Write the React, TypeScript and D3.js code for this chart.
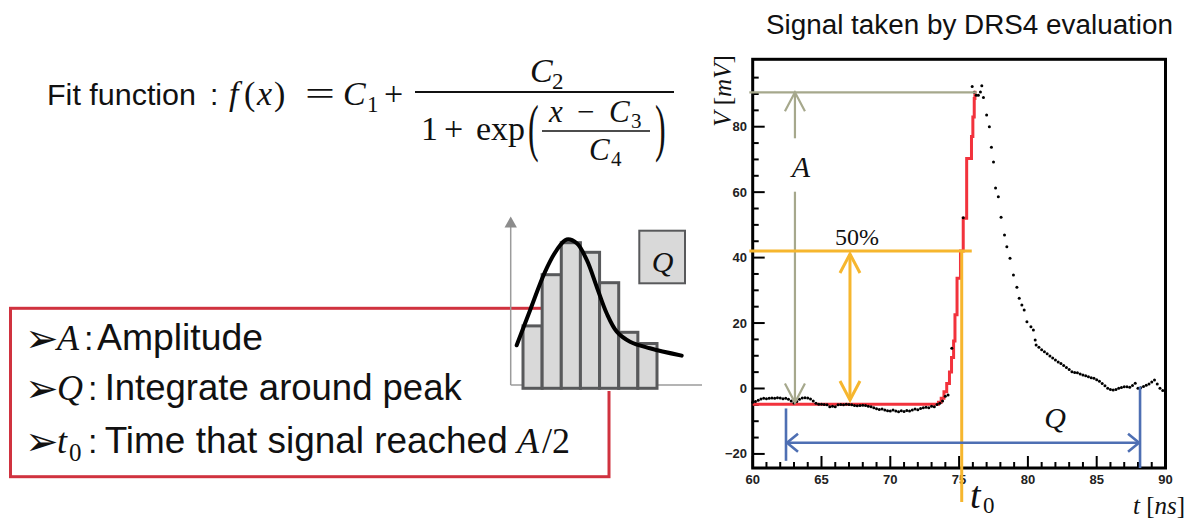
import React from "react";
import * as d3 from "d3";

// ---------- data ----------
// DRS4 samples: [t (ns), V (mV)]
const signalPoints: [number, number][] = [
  [60.0, -4.2], [60.2, -4.0], [60.4, -3.6], [60.6, -3.2], [60.8, -3.0], [61.0, -3.1],
  [61.2, -3.0], [61.4, -2.9], [61.6, -3.0], [61.8, -2.8], [62.0, -2.9], [62.2, -3.1],
  [62.4, -3.0], [62.6, -3.3], [62.8, -3.8], [63.0, -4.4], [63.2, -4.0], [63.4, -3.3],
  [63.6, -2.9], [63.8, -2.8], [64.0, -2.9], [64.2, -3.2], [64.4, -3.8], [64.6, -4.5],
  [64.8, -4.8], [65.0, -4.8], [65.2, -4.9], [65.4, -5.0], [65.6, -5.6], [65.8, -5.4],
  [66.0, -5.6], [66.2, -5.0], [66.4, -4.9], [66.6, -5.0], [66.8, -4.8], [67.0, -4.9],
  [67.2, -5.0], [67.4, -5.2], [67.6, -5.3], [67.8, -5.2], [68.0, -5.1], [68.2, -5.2],
  [68.4, -5.4], [68.6, -5.6], [68.8, -5.9], [69.0, -6.2], [69.2, -6.4], [69.4, -6.3],
  [69.6, -6.6], [69.8, -6.8], [70.0, -6.9], [70.2, -6.6], [70.4, -6.9], [70.6, -7.1],
  [70.8, -6.8], [71.0, -7.0], [71.2, -6.7], [71.4, -6.9], [71.6, -6.6], [71.8, -6.3],
  [72.0, -6.5], [72.2, -6.1], [72.4, -5.9], [72.6, -5.7], [72.8, -5.9], [73.0, -5.4],
  [73.2, -5.6], [73.4, -4.9], [73.6, -4.5], [73.8, -3.8], [74.0, -2.4], [74.2, -2.0],
  [74.47, 12.3], [75.3, 52.2],
  [75.95, 92.3], [76.1, 90.5], [76.25, 89.6], [76.4, 89.6], [76.55, 90.6], [76.65, 92.5],
  [76.77, 88.9], [77.0, 83.6], [77.2, 80.0], [77.35, 73.7], [77.5, 69.2], [77.65, 61.3],
  [77.85, 58.6], [78.05, 52.3], [78.3, 46.9], [78.47, 43.3], [78.7, 39.8], [78.95, 34.7],
  [79.2, 30.9], [79.37, 27.6], [79.56, 25.5], [79.73, 24.0], [79.93, 20.4], [80.22, 18.9],
  [80.4, 17.9], [80.53, 14.8], [80.6, 13.3], [80.8, 12.6], [81.0, 11.8], [81.2, 11.2],
  [81.4, 10.6], [81.6, 9.9], [81.8, 9.3], [82.0, 8.7], [82.2, 8.1], [82.4, 7.6],
  [82.6, 7.0], [82.8, 6.4], [83.0, 5.8], [83.2, 5.1], [83.4, 4.9], [83.6, 4.8],
  [83.8, 4.4], [84.0, 4.1], [84.2, 3.9], [84.4, 3.6], [84.6, 3.3], [84.8, 3.1],
  [85.0, 2.7], [85.2, 2.2], [85.4, 1.5], [85.6, 0.8], [85.8, 0.1], [86.0, -0.3],
  [86.2, -0.5], [86.4, -0.3], [86.6, 0.1], [86.8, 0.3], [87.0, 0.5], [87.2, 0.5],
  [87.4, 0.4], [87.6, 0.9], [87.8, 1.6], [88.0, 0.1], [88.2, 0.2], [88.4, 0.6],
  [88.6, 1.0], [88.8, 1.4], [89.0, 2.0], [89.2, 2.6], [89.4, 1.4], [89.6, 0.1],
  [89.8, -0.6], [90.0, -1.4],
];

// fitted function drawn as steps: [t (ns), V (mV)]
const fitPoints: [number, number][] = [
  [60.0, -4.8], [73.5, -4.2], [73.7, -3.0], [73.9, -1.0], [74.1, 1.5], [74.3, 5.0],
  [74.45, 9.5], [74.6, 14.5], [74.7, 22.5], [74.85, 33.7], [75.1, 42.0], [75.3, 52.0],
  [75.55, 70.3], [75.9, 77.0], [76.0, 83.0], [76.1, 88.6], [76.15, 91.0],
];

const xTickValues = [60, 65, 70, 75, 80, 85, 90];
const xTickLabels = ["60", "65", "70", "75", "80", "85", "90"];
const yTickValues = [-20, 0, 20, 40, 60, 80];
const yTickLabels = ["−20", "0", "20", "40", "60", "80"];

// annotation levels (mV) and times (ns)
const amplitudeLevel = 90.5;
const amplitudeEnd = 76.28;
const baseLevel = -4.3;
const halfLevel = 42.0;
const halfEnd = 75.92;
const t0Time = 75.19;
const aArrowTime = 63.07;
const halfArrowTime = 67.07;
const halfArrowTop = 41.1;
const halfArrowBottom = -3.5;
const qStart = 62.42;
const qEnd = 88.15;
const qArrowLevel = -16.6;

// inset illustration: bar heights and fitted curve (bar units)
const histCounts = [3.9, 7.1, 9.1, 8.5, 6.6, 3.5, 2.8];
const histCurve: [number, number][] = [
  [-0.33, 2.69], [0.37, 4.88], [1.15, 7.28], [1.76, 8.64], [2.28, 9.3], [2.81, 9.06],
  [3.33, 8.02], [3.85, 6.35], [4.37, 4.69], [4.9, 3.54], [5.59, 2.91], [6.63, 2.5],
  [8.29, 2.04],
];

const SANS = "'Liberation Sans', Arial, sans-serif";
const SERIF = "'Liberation Serif', 'Times New Roman', serif";
const GREY = "#a6a88c";
const ORANGE = "#f6b62e";
const BLUE = "#4e6fb3";
const FITRED = "#f2323c";
const BOXRED = "#d0323f";

function chevron(tx: number, ty: number, dx: number, dy: number, len: number, half: number) {
  const bx = tx - dx * len, by = ty - dy * len;
  const px = -dy, py = dx;
  return `M${bx + px * half},${by + py * half}L${tx},${ty}L${bx - px * half},${by - py * half}`;
}

export default function App() {
  const x = d3.scaleLinear().domain([60, 90]).range([752.7, 1165.5]);
  const y = d3.scaleLinear().domain([-24.3, 100.6]).range([468, 59.3]);
  const fitLine = d3.line<[number, number]>().x((d) => x(d[0])).y((d) => y(d[1])).curve(d3.curveStepAfter);

  const hx = d3.scaleLinear().domain([0, 7]).range([523, 657]);
  const hy = d3.scaleLinear().domain([0, 10]).range([388.3, 228.3]);
  const histLine = d3.line<[number, number]>().x((d) => hx(d[0])).y((d) => hy(d[1])).curve(d3.curveCatmullRom);

  const xMinor = d3.range(60, 91, 1);
  const yMinor = d3.range(-20, 96, 5);
  const [x0, x1] = x.range();
  const [yb, yt] = y.range();

  return (
    <div style={{ position: "absolute", left: 0, top: 0, width: 1194, height: 520, background: "#fff" }}>
      <svg width={1194} height={520} style={{ display: "block" }}>
        <rect x={0} y={0} width={1194} height={520} fill="#fff" />

        {/* ---------- title ---------- */}
        <text x={766} y={34} fontFamily={SANS} fontSize={27} textLength={407} lengthAdjust="spacingAndGlyphs" fill="#111">
          Signal taken by DRS4 evaluation
        </text>

        {/* ---------- formula ---------- */}
        <g fill="#111">
          <text x={47} y={105} fontFamily={SANS} fontSize={30} textLength={149} lengthAdjust="spacingAndGlyphs">Fit function</text>
          <text x={210} y={105} fontFamily={SANS} fontSize={30}>:</text>
          <text x={229} y={105} fontFamily={SERIF} fontSize={34} fontStyle="italic">f</text>
          <text x={244} y={105} fontFamily={SERIF} fontSize={34}>(</text>
          <text x={257} y={105} fontFamily={SERIF} fontSize={34} fontStyle="italic">x</text>
          <text x={274} y={105} fontFamily={SERIF} fontSize={34}>)</text>
          <text x={305} y={105} fontFamily={SERIF} fontSize={34} textLength={30} lengthAdjust="spacingAndGlyphs">=</text>
          <text x={343} y={105} fontFamily={SERIF} fontSize={34} fontStyle="italic">C</text>
          <text x={367} y={112} fontFamily={SERIF} fontSize={23}>1</text>
          <text x={384} y={105} fontFamily={SERIF} fontSize={34}>+</text>
          <line x1={415} x2={674} y1={92} y2={92} stroke="#111" strokeWidth={2} />
          <text x={530} y={82} fontFamily={SERIF} fontSize={34} fontStyle="italic">C</text>
          <text x={552} y={89} fontFamily={SERIF} fontSize={23}>2</text>
          <text x={421} y={140} fontFamily={SERIF} fontSize={34}>1</text>
          <text x={444} y={140} fontFamily={SERIF} fontSize={34}>+</text>
          <text x={476} y={140} fontFamily={SERIF} fontSize={34}>exp</text>
          <text x={0} y={0} fontFamily={SERIF} fontSize={40} transform="translate(528,149) scale(0.8,1.6)">(</text>
          <text x={0} y={0} fontFamily={SERIF} fontSize={40} transform="translate(655,149) scale(0.8,1.6)">)</text>
          <text x={549} y={122} fontFamily={SERIF} fontSize={31} fontStyle="italic">x</text>
          <text x={577} y={122} fontFamily={SERIF} fontSize={31}>−</text>
          <text x={609} y={122} fontFamily={SERIF} fontSize={31} fontStyle="italic">C</text>
          <text x={631} y={128} fontFamily={SERIF} fontSize={21}>3</text>
          <line x1={542} x2={650} y1={131} y2={131} stroke="#111" strokeWidth={1.6} />
          <text x={589} y={160} fontFamily={SERIF} fontSize={31} fontStyle="italic">C</text>
          <text x={611} y={166} fontFamily={SERIF} fontSize={21}>4</text>
        </g>

        {/* ---------- red box with definitions ---------- */}
        <rect x={10.5} y={308.3} width={598.5} height={168.4} fill="none" stroke={BOXRED} strokeWidth={3} />
        <g fill="#111">
          {[352, 402, 455].map((by) => (
            <text key={by} x={25} y={by} fontFamily="'DejaVu Sans', sans-serif" fontSize={40}>➢</text>
          ))}
          <text x={57} y={350} fontFamily={SERIF} fontSize={36} fontStyle="italic">A</text>
          <text x={84} y={350} fontFamily={SANS} fontSize={34}>:</text>
          <text x={97} y={350} fontFamily={SANS} fontSize={36} textLength={166} lengthAdjust="spacingAndGlyphs">Amplitude</text>

          <text x={57} y={400} fontFamily={SERIF} fontSize={36} fontStyle="italic">Q</text>
          <text x={88} y={400} fontFamily={SANS} fontSize={34}>:</text>
          <text x={104.7} y={400} fontFamily={SANS} fontSize={36} textLength={357} lengthAdjust="spacingAndGlyphs">Integrate around peak</text>

          <text x={57} y={453} fontFamily={SERIF} fontSize={36} fontStyle="italic">t</text>
          <text x={69} y={461} fontFamily={SERIF} fontSize={25}>0</text>
          <text x={88} y={453} fontFamily={SANS} fontSize={34}>:</text>
          <text x={104.7} y={453} fontFamily={SANS} fontSize={36} textLength={403} lengthAdjust="spacingAndGlyphs">Time that signal reached</text>
          <text x={517} y={453} fontFamily={SERIF} fontSize={36} fontStyle="italic">A</text>
          <text x={542} y={453} fontFamily={SERIF} fontSize={36}>/2</text>
        </g>

        {/* ---------- inset illustration ---------- */}
        <rect x={542} y={205} width={160} height={186} fill="#fff" />
        <line x1={510.7} x2={510.7} y1={226} y2={385} stroke="#9b9b9b" strokeWidth={1.5} />
        <path d="M504.5,227.5L510.7,216.5L516.9,227.5Z" fill="#8c8c8c" />
        <line x1={510.7} x2={702} y1={385} y2={385} stroke="#9b9b9b" strokeWidth={1.5} />
        {histCounts.map((c, i) => (
          <rect key={i} x={hx(i)} y={hy(c)} width={hx(i + 1) - hx(i)} height={hy(0) - hy(c)}
            fill="#d9d9d9" stroke="#58595b" strokeWidth={3} />
        ))}
        <path d={histLine(histCurve) || ""} fill="none" stroke="#000" strokeWidth={4} strokeLinecap="round" />
        <rect x={639.3} y={230.7} width={45.7} height={52.6} fill="#d9d9d9" stroke="#58595b" strokeWidth={2} />
        <text x={662.5} y={272} textAnchor="middle" fontFamily={SERIF} fontSize={30} fontStyle="italic" fill="#111">Q</text>

        {/* ---------- plot: ticks ---------- */}
        <g stroke="#000" strokeWidth={2}>
          {xMinor.map((t) => {
            const major = t % 5 === 0;
            return <line key={"xm" + t} x1={x(t)} x2={x(t)} y1={yb} y2={yb - (major ? 12 : 6)} />;
          })}
          {yMinor.map((v) => {
            const major = v % 20 === 0;
            return <line key={"ym" + v} x1={x0} x2={x0 + (major ? 12 : 6)} y1={y(v)} y2={y(v)} />;
          })}
        </g>
        <g fontFamily={SANS} fontWeight="bold" fontSize={13} fill="#222">
          {xTickValues.map((t, i) => (
            <text key={"xl" + t} x={x(t)} y={484} textAnchor="middle">{xTickLabels[i]}</text>
          ))}
          {yTickValues.map((v, i) => (
            <text key={"yl" + v} x={747} y={y(v) + 4.5} textAnchor="end">{yTickLabels[i]}</text>
          ))}
        </g>
        <rect x={x0} y={yt} width={x1 - x0} height={yb - yt} fill="none" stroke="#000" strokeWidth={3} />

        {/* axis titles */}
        <text transform={`translate(731,91) rotate(-90)`} textAnchor="middle" fontFamily={SERIF} fontSize={25} fill="#111">
          <tspan fontStyle="italic">V</tspan> [<tspan fontStyle="italic">mV</tspan>]
        </text>
        <text x={1133} y={514} fontFamily={SERIF} fontSize={25} fill="#111">
          <tspan fontStyle="italic">t</tspan> [<tspan fontStyle="italic">ns</tspan>]
        </text>

        {/* ---------- fit and signal ---------- */}
        <path d={fitLine(fitPoints) || ""} fill="none" stroke={FITRED} strokeWidth={3} />
        {signalPoints.map((d, i) => (
          <circle key={i} cx={x(d[0])} cy={y(d[1])} r={1.5} fill="#000" />
        ))}

        {/* ---------- amplitude annotation ---------- */}
        <g stroke={GREY} strokeWidth={2.2} fill="none">
          <line x1={749.3} x2={x(amplitudeEnd)} y1={y(amplitudeLevel)} y2={y(amplitudeLevel)} />
          <line x1={x(aArrowTime)} x2={x(aArrowTime)} y1={y(amplitudeLevel)} y2={138.3} />
          <line x1={x(aArrowTime)} x2={x(aArrowTime)} y1={191.7} y2={y(baseLevel)} />
          <path d={chevron(x(aArrowTime), y(amplitudeLevel), 0, -1, 19, 10)} />
          <path d={chevron(x(aArrowTime), y(baseLevel), 0, 1, 19, 10)} />
        </g>
        <text x={x(aArrowTime) + 6} y={177} textAnchor="middle" fontFamily={SERIF} fontSize={30} fontStyle="italic" fill="#111">A</text>

        {/* ---------- 50% annotation ---------- */}
        <g stroke={ORANGE} strokeWidth={3} fill="none">
          <line x1={749.3} x2={x(halfEnd)} y1={y(halfLevel)} y2={y(halfLevel)} />
          <line x1={x(t0Time)} x2={x(t0Time)} y1={y(halfLevel)} y2={502} />
          <line x1={x(halfArrowTime)} x2={x(halfArrowTime)} y1={y(halfArrowTop)} y2={y(halfArrowBottom)} />
          <path d={chevron(x(halfArrowTime), y(halfArrowTop), 0, -1, 19, 10)} />
          <path d={chevron(x(halfArrowTime), y(halfArrowBottom), 0, 1, 19, 10)} />
        </g>
        <text x={857} y={245} textAnchor="middle" fontFamily={SERIF} fontSize={24} fill="#111">50%</text>
        <text x={970} y={508} fontFamily={SERIF} fontSize={38} fontStyle="italic" fill="#111">t</text>
        <text x={983} y={513} fontFamily={SERIF} fontSize={23} fill="#111">0</text>

        {/* ---------- Q annotation ---------- */}
        <g stroke={BLUE} strokeWidth={2.6} fill="none">
          <line x1={x(qStart)} x2={x(qStart)} y1={y(-6.1)} y2={y(-22.1)} />
          <line x1={x(qEnd)} x2={x(qEnd)} y1={y(0.55)} y2={yb} />
          <line x1={x(qStart)} x2={x(qEnd)} y1={y(qArrowLevel)} y2={y(qArrowLevel)} />
          <path d={chevron(x(qStart) + 1, y(qArrowLevel), -1, 0, 11, 9)} />
          <path d={chevron(x(qEnd) - 1, y(qArrowLevel), 1, 0, 11, 9)} />
        </g>
        <text x={1055} y={428} textAnchor="middle" fontFamily={SERIF} fontSize={30} fontStyle="italic" fill="#111">Q</text>
      </svg>
    </div>
  );
}
